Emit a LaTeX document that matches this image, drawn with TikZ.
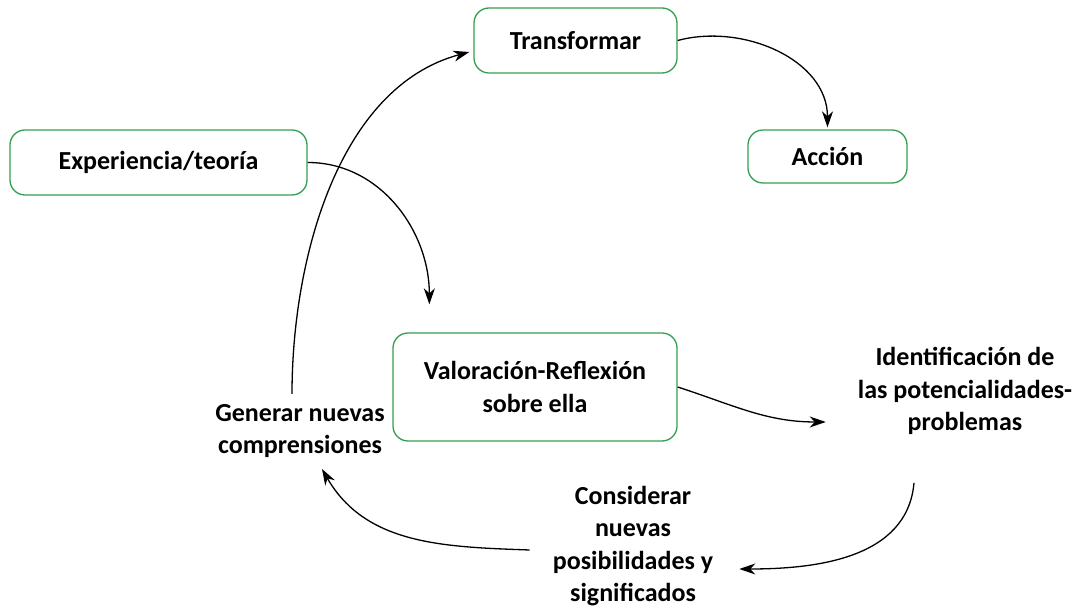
\documentclass[tikz,border=0pt]{standalone}
\usepackage{fontspec}
\setmainfont{Carlito}
\usetikzlibrary{arrows.meta,positioning}

\definecolor{verde}{RGB}{52,160,78}

\tikzset{
  etapa/.style={draw=verde, line width=1.3pt, rounded corners=15pt, align=center,
    font=\bfseries\fontsize{26}{32.5}\selectfont},
  rotulo/.style={align=center, inner sep=4pt, font=\bfseries\fontsize{26}{32.5}\selectfont},
  flecha/.style={-{Stealth[length=16pt,width=11pt,inset=5pt]}, line width=1.3pt}
}

\begin{document}
\begin{tikzpicture}[x=1pt,y=1pt]
    \useasboundingbox (0,0) rectangle (1086,609);

    % cajas
    \node[etapa, minimum width=203pt, minimum height=65pt] (trans) at (575.5,568.5) {Transformar};
    \node[etapa, minimum width=159pt, minimum height=53pt] (accion) at (827.5,452.5) {Acción};
    \node[etapa, minimum width=297pt, minimum height=65pt] (exp) at (158.5,446.5) {\raisebox{3pt}{Experiencia/teoría}};
    \node[etapa, minimum width=284pt, minimum height=108pt] (val) at (535,222) {Valoración-Reflexión\\sobre ella};

    % textos sueltos
    \node[rotulo] (idf) at (965,218) {Identificación de\\las potencialidades-\\problemas};
    \node[rotulo] (gen) at (300,178) {Generar nuevas\\comprensiones};
    \node[rotulo] (cons) at (633,63) {Considerar\\nuevas\\posibilidades y\\significados};

    \draw[flecha] (exp.east) to[out=0,in=90] ([shift={(37,28)}]val.north west);
    \draw[flecha] ([shift={(-8,6)}]gen.north) to[out=90,in=195,looseness=0.9] ([shift={(-4,-11.5)}]trans.west);
    \draw[flecha] (trans.east) to[out=15,in=90] ([yshift=2]accion.north);
    \draw[flecha] (val.east) to[out=-18,in=180] ([shift={(-28,-31)}]idf.west);
    \draw[flecha] ([shift={(-51,-44)}]idf.south) to[out=-95,in=0] ([shift={(22,-23)}]cons.east);
    \draw[flecha] ([shift={(-19,-4)}]cons.west) to[out=178,in=-60] ([shift={(22,-7)}]gen.south);
\end{tikzpicture}
\end{document}
